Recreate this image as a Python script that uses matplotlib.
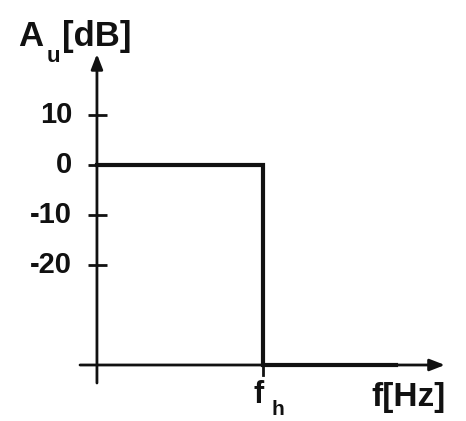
import matplotlib
matplotlib.use("Agg")
import matplotlib.pyplot as plt

# ---- data ----
ytick_values = [10, 0, -10, -20]
ytick_labels = ["10", "0", "-10", "-20"]
resp_f = [0.0, 1.0, 1.0, 1.8]        # frequency (fh = 1)
resp_db = [0.0, 0.0, -40.0, -40.0]   # gain in dB
fh = 1.0
x_axis_db = -40.0
x_label = "f[Hz]"

fig = plt.figure(figsize=(4.66, 4.21), dpi=100)
ax = fig.add_axes([0, 0, 1, 1])
ax.set_xlim(-0.584, 2.223)
ax.set_ylim(-51.2, 33.0)
ax.axis("off")

col = "#111111"
fam = "Liberation Sans"
kw = dict(fontweight="bold", family=fam, color=col)

# y axis with arrow
ax.annotate("", xy=(0, 22.2), xytext=(0, -43.6),
            arrowprops=dict(arrowstyle="-|>,head_length=0.9,head_width=0.35",
                            color=col, lw=2.0, shrinkA=0, shrinkB=0))
# x axis with arrow
ax.annotate("", xy=(2.096, x_axis_db), xytext=(-0.102, x_axis_db),
            arrowprops=dict(arrowstyle="-|>,head_length=0.9,head_width=0.35",
                            color=col, lw=2.0, shrinkA=0, shrinkB=0))

# ticks on y axis
for v, lab in zip(ytick_values, ytick_labels):
    ax.plot([-0.054, 0.06], [v, v], color=col, lw=2.0, solid_capstyle="butt")
    ax.text(-0.15, v, lab, ha="right", va="center", fontsize=21, **kw)

# tick at fh on x axis
ax.plot([fh, fh], [x_axis_db, x_axis_db - 2.0], color=col, lw=2.0)

# response
ax.plot(resp_f, resp_db, color=col, lw=3.0, solid_joinstyle="miter")

# y label: A_u[dB]
ax.text(-0.476, 23.8, "A", ha="left", va="baseline", fontsize=25, **kw)
ax.text(-0.301, 20.6, "u", ha="left", va="baseline", fontsize=16, **kw)
ax.text(-0.211, 23.8, "[dB]", ha="left", va="baseline", fontsize=25, **kw)

# f_h
ax.text(fh - 0.06, -43.0, "f", ha="left", va="top", fontsize=22, **kw)
ax.text(fh + 0.05, -47.0, "h", ha="left", va="top", fontsize=15, **kw)
# x label
ax.text(1.655, -43.4, x_label, ha="left", va="top", fontsize=24, **kw)

fig.savefig("out.png", dpi=100)
